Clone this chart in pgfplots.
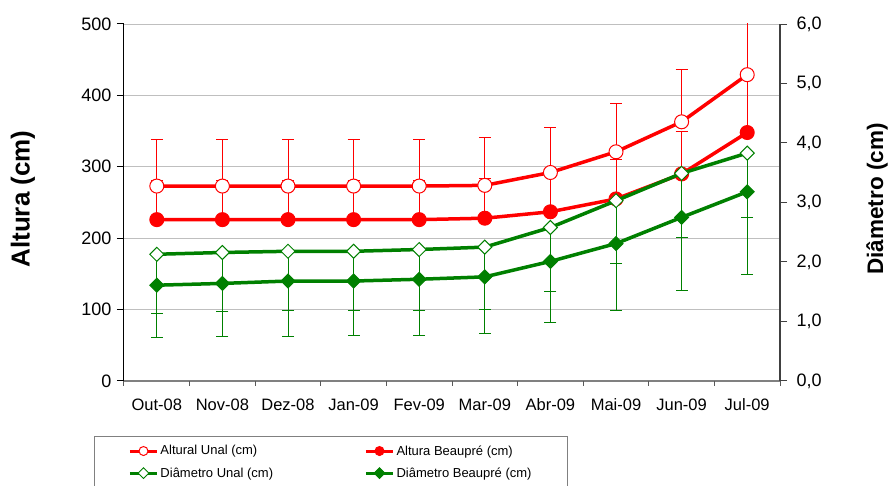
\documentclass[border=0pt]{standalone}
\usepackage{fontspec}
\setmainfont{Liberation Sans}
\usepackage{pgfplots}
\usepackage{pgfplotstable}
\pgfplotsset{compat=1.18}

\definecolor{cred}{RGB}{255,0,0}
\definecolor{cgreen}{RGB}{0,128,0}

% month index, mean, standard deviation
\pgfplotstableread{
x y e
0 273 65
1 273 65
2 273 65
3 273 65
4 273 65
5 274 67
6 292 63
7 321 67
8 363 73
9 429 90
}\alturaunal
\pgfplotstableread{
x y e
0 226 55
1 226 55
2 226 55
3 226 55
4 226 55
5 228 55
6 237 55
7 255 55
8 290 59
9 348 80
}\alturabeau
\pgfplotstableread{
x y e
0 2.13 0.99
1 2.16 1.00
2 2.18 1.00
3 2.18 1.00
4 2.21 1.03
5 2.25 1.05
6 2.58 1.07
7 3.03 1.06
8 3.49 1.08
9 3.83 1.09
}\diamunal
\pgfplotstableread{
x y e
0 1.61 0.88
1 1.64 0.89
2 1.68 0.93
3 1.68 0.91
4 1.71 0.94
5 1.75 0.96
6 2.01 1.02
7 2.31 1.13
8 2.75 1.23
9 3.18 1.39
}\diambeau

\pgfplotsset{
  base/.style={
    width=656pt, height=357pt, scale only axis,
    at={(0,0)}, anchor=south west,
    xmin=-0.5, xmax=9.5, ymin=0,
    tick align=outside, major tick length=7pt,
    /pgf/number format/assume math mode=true,
    ticklabel style={font=\fontsize{18}{20}\selectfont},
  },
  redline/.style={cred, line width=3.5pt, mark=*, mark size=7pt},
  greenline/.style={cgreen, line width=3.5pt, mark=square*, mark size=4.95pt},
  ebonly/.style={draw=none, mark=none, forget plot},
  ebred/.style={error bars/.cd, y dir=plus, y explicit,
    error bar style={draw=cred, line width=1pt},
    error mark options={rotate=90, draw=cred, mark size=6pt, line width=1pt}},
  ebgreen/.style={error bars/.cd, y dir=minus, y explicit,
    error bar style={draw=cgreen, line width=1pt},
    error mark options={rotate=90, draw=cgreen, mark size=6pt, line width=1pt}},
}

\begin{document}
\begin{tikzpicture}
\path[use as bounding box] (-124pt,-105pt) rectangle (767pt,381pt);

% left axis: altura
\begin{axis}[base,
  ymax=500, ytick={0,100,...,500},
  axis x line*=bottom, axis y line*=left,
  x axis line style={draw=gray, line width=1.5pt},
  y axis line style={draw=black, line width=1pt},
  ytick style={draw=black, line width=1pt},
  yticklabel style={xshift=-2pt},
  ymajorgrids, grid style={draw=gray!50, line width=0.8pt},
  xtick={0,...,9},
  xticklabels={Out-08,Nov-08,Dez-08,Jan-09,Fev-09,Mar-09,Abr-09,Mai-09,Jun-09,Jul-09},
  xticklabel style={font=\fontsize{16.5}{18}\selectfont, yshift=-7pt},
  xtick style={draw=none},
  extra x ticks={-0.5,0.5,...,9.5}, extra x tick labels={},
  extra x tick style={major tick length=5pt, xtick style={draw=gray!70!black, line width=1pt}},
  ylabel={Altura (cm)},
  ylabel style={at={(axis description cs:-0.154,0.51)}, anchor=center,
    font=\bfseries\fontsize{26}{28}\selectfont},
]
\addplot[ebonly, ebred] table[x=x, y=y, y error=e] {\alturabeau};
\addplot[ebonly, ebred] table[x=x, y=y, y error=e] {\alturaunal};
\addplot[redline, mark options={fill=cred, line width=1pt}] table[x=x, y=y] {\alturabeau};
\addplot[redline, mark options={fill=white, line width=1pt}] table[x=x, y=y] {\alturaunal};
\end{axis}

% right axis: diametro
\begin{axis}[base,
  ymax=6, ytick={0,1,...,6},
  axis x line=none, axis y line*=right,
  y axis line style={draw=black!75, line width=1.5pt},
  ytick style={draw=black!75, line width=1pt},
  yticklabel style={xshift=6pt, /pgf/number format/.cd, fixed, fixed zerofill, precision=1, use comma},
  ylabel={Diâmetro (cm)},
  ylabel style={at={(axis description cs:1.148,0.51)}, anchor=center, rotate=0,
    font=\bfseries\fontsize{22.5}{24}\selectfont},
  legend columns=2, legend cell align=left,
  legend image code/.code={
    \draw[#1, line width=3pt] (0pt,0pt) -- (27pt,0pt);
    \draw[#1, line width=1pt] plot coordinates {(13.5pt,0pt)};
  },
  legend style={at={(axis description cs:0,0)}, anchor=north west,
    xshift=-30pt, yshift=-55pt, draw=gray, line width=1pt, fill=white,
    inner xsep=34pt, inner ysep=7pt, row sep=7pt,
    font=\fontsize{13}{15}\selectfont,
    nodes={inner sep=2pt}},
]
\addlegendimage{redline, mark size=4.5pt, mark options={fill=white, line width=1pt}}
\addlegendentry{\makebox[202pt][l]{Altural Unal (cm)}}
\addlegendimage{redline, mark size=4.5pt, mark options={fill=cred, line width=1pt}}
\addlegendentry{Altura Beaupré (cm)}
\addplot[ebonly, ebgreen] table[x=x, y=y, y error=e] {\diambeau};
\addplot[ebonly, ebgreen] table[x=x, y=y, y error=e] {\diamunal};
\addlegendimage{greenline, mark size=3.8pt, mark options={fill=white, line width=1pt, rotate=45}}
\addlegendentry{Diâmetro Unal (cm)}
\addlegendimage{greenline, mark size=3.8pt, mark options={fill=cgreen, line width=1pt, rotate=45}}
\addlegendentry{Diâmetro Beaupré (cm)}
\addplot[greenline, mark options={fill=cgreen, line width=1pt, rotate=45}, forget plot] table[x=x, y=y] {\diambeau};
\addplot[greenline, mark options={fill=white, line width=1pt, rotate=45}, forget plot] table[x=x, y=y] {\diamunal};
\end{axis}
\end{tikzpicture}
\end{document}
